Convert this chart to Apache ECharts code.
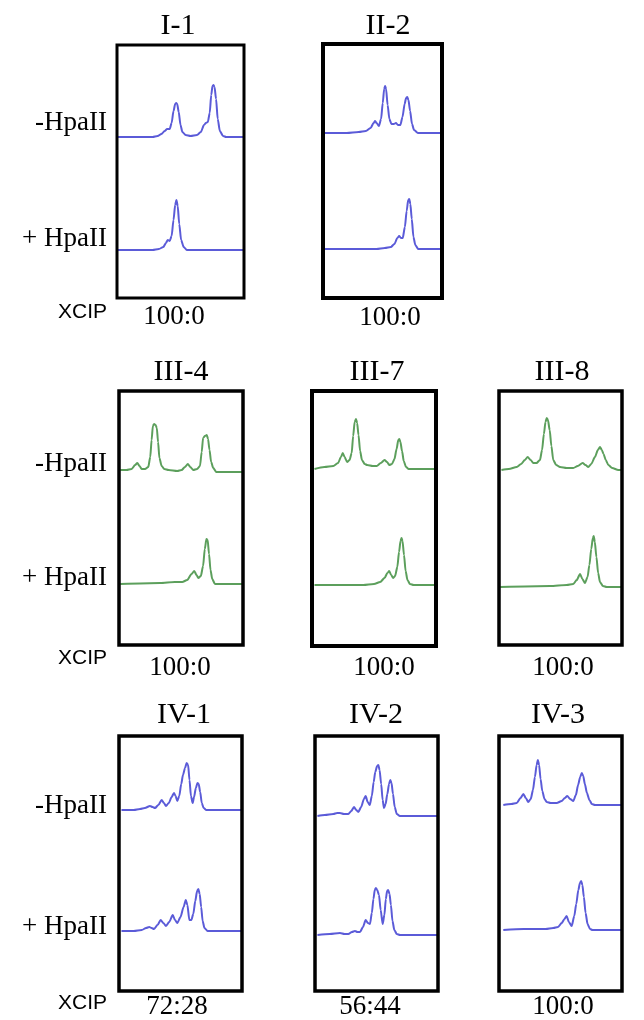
<!DOCTYPE html>
<html>
<head>
<meta charset="utf-8">
<script src="https://cdn.jsdelivr.net/npm/echarts@6/dist/echarts.min.js"></script>
<style>
html,body{margin:0;padding:0;background:#fff;}
#chart{width:644px;height:1020px;}
</style>
</head>
<body>
<div id="chart"></div>
<script>
// ---------- labels ----------
const panelNames = ['I-1', 'II-2', 'III-4', 'III-7', 'III-8', 'IV-1', 'IV-2', 'IV-3'];
const xcipRatios = ['100:0', '100:0', '100:0', '100:0', '100:0', '72:28', '56:44', '100:0'];
const rowLabels = ['-HpaII', '+ HpaII', 'XCIP'];

// ---------- traces: [migration position (0-100), signal] ----------
const minus_I1 = [[0,0],[28,0],[32,1],[35,3],[37.5,6],[39.5,8],[41.5,8],[43,14],[44.5,26],[45.8,33],[46.6,34],[47.4,33],[48.6,25],[50,12],[51.5,5],[54,2],[58,1],[63,2],[66,5],[68.5,12],[70,14],[71.5,15],[73,24],[74.2,42],[75.2,51],[76,52],[76.8,50],[78,38],[79.3,18],[81,6],[83.5,1],[86,0],[100,0]];
const plus_I1 = [[0,0],[28,0],[33,1],[36.5,3],[38.5,7],[40,10],[41.5,9],[43,14],[44.5,30],[45.8,45],[46.8,50],[47.8,44],[49,26],[50.5,10],[52.5,3],[55,0],[100,0]];

const minus_II2 = [[0,0],[20,0],[30,1],[36,2],[40,5],[42.5,10],[43.8,12],[45,10],[47,7],[48.8,14],[50.2,30],[51.4,44],[52.2,47],[53,44],[54.3,28],[55.8,14],[57.5,9],[59.5,9],[61.3,10],[63,8],[65,8],[66.8,16],[68.6,29],[69.8,35],[70.8,36],[71.8,33],[73.2,22],[74.8,9],[76.5,3],[79.8,0],[100,0]];
const plus_II2 = [[0,0],[45,0],[52,1],[57,2],[60,5],[62.5,11],[64,13],[65.5,11],[67,11],[68.8,22],[70.3,38],[71.6,49],[72.5,50],[73.4,45],[74.6,30],[76,12],[77.6,4],[80,0],[100,0]];

const minus_III4 = [[1,2],[6,2],[10.2,3],[13,7],[14.8,9],[16.5,6],[18.3,3],[21,3],[23.6,5],[25.2,15],[26.3,32],[27.3,46],[28.3,48],[29.5,47],[30.5,44],[31.5,30],[32.6,14],[34.4,6],[36.5,3],[40,2],[47,1],[50.5,2],[53.2,5],[55.5,8],[57.5,5],[59.9,2],[63,3],[65.3,6],[66.7,20],[67.8,34],[69.3,36],[70.8,37],[71.8,33],[73,22],[74.3,10],[76,4],[78.5,0],[100,0]];
const plus_III4 = [[1,0],[33.1,1],[45,2],[51,2],[55,4],[58.5,10],[60.7,13],[62.5,9],[64,6],[66,8],[67.8,18],[69.2,35],[70.5,45],[71.5,44],[72.6,30],[73.8,14],[75.2,5],[77.4,0],[100,0]];

const minus_III7 = [[2,0],[10,2],[17.2,3],[21,6],[23.4,12],[24.8,16],[26.3,12],[28.3,7],[30.3,9],[32,16],[33.2,33],[34.4,47],[35.5,50],[36.4,46],[37.5,34],[38.8,18],[40.3,9],[42.5,5],[44.5,4],[49,3],[52.2,3],[55.5,6],[58.5,9],[60.5,7],[62.3,4],[64.5,5],[66.5,10],[68.2,20],[69.6,29],[70.4,30],[71.3,27],[72.6,18],[74,8],[75.8,2],[78,0],[100,0]];
const plus_III7 = [[2,0],[41.4,0],[50,1],[55,3],[58.5,7],[60.8,12],[62.3,14],[63.8,10],[65.5,7],[67,9],[68.8,18],[70.2,33],[71.4,44],[72.2,47],[73,44],[74.2,30],[75.5,14],[77,5],[79,1],[82,0],[100,0]];

const minus_III8 = [[2,0],[8,1],[14.4,3],[18,6],[21,10],[23.3,13],[25.7,10],[27.9,7],[30.5,7],[33.3,10],[35,20],[36.5,36],[37.8,48],[38.8,52],[39.8,50],[41.2,40],[42.6,24],[44.1,10],[46.5,5],[49.6,3],[55,2],[60.4,2],[64,4],[68,7],[70.3,5],[72.6,3],[75,6],[78,13],[80.4,20],[82.1,23],[83.6,20],[85,16],[86.8,10],[88.9,5],[92,2],[97,0],[100,0]];
const plus_III8 = [[1,0],[41.5,1],[55,2],[60.4,3],[63.2,7],[65.9,13],[67.8,8],[69.9,4],[72,10],[73.5,22],[75,38],[76.3,49],[77,51],[77.9,45],[79.2,30],[80.6,14],[82.1,5],[84.5,1],[87.6,0],[100,0]];

const minus_IV1 = [[2,0],[12,0],[17.1,1],[21,2],[25.2,4],[27.3,3],[29.3,2],[32,5],[34.7,10],[36.5,7],[38.2,4],[40.5,7],[42.8,13],[44.7,17],[46,14],[47.4,9],[49,14],[50.6,26],[52,35],[53.7,42],[55,47],[56.2,45],[57.3,30],[58.5,14],[59.9,7],[61,13],[62.5,22],[63.8,27],[64.8,26],[66,18],[67.3,7],[68.8,2],[71,0],[100,0]];
const plus_IV1 = [[2,0],[12,0],[18.5,1],[22,3],[24.6,4],[26.5,3],[28.5,2],[31.3,6],[33.9,11],[36,8],[38.2,5],[40.8,9],[43.7,16],[45.5,11],[47.4,8],[50,14],[52.5,24],[54.3,31],[55.6,26],[57.2,11],[58.8,11],[60.4,17],[62,30],[63.5,40],[64.5,42],[65.6,37],[66.8,24],[68,10],[69.5,3],[72,0],[100,0]];

const minus_IV2 = [[2,0],[8,1],[14.9,2],[18,3],[20.3,3],[23.5,2],[27.1,2],[29.5,5],[31.7,9],[33.5,6],[35.2,4],[37.5,9],[39.8,17],[41.2,20],[42.8,14],[44.5,11],[46.2,20],[47.7,34],[49,44],[50.5,50],[51.5,51],[52.5,46],[53.8,32],[55,16],[56.1,8],[57.4,12],[58.8,22],[60.2,32],[61.2,36],[62.2,33],[63.4,22],[64.8,9],[66.5,2],[69,0],[100,0]];
const plus_IV2 = [[2,0],[12,1],[20.3,2],[24,1],[27.1,1],[30,3],[32.5,4],[34.5,3],[36.6,3],[39,8],[41.2,15],[43,12],[44.7,11],[46.2,22],[47.5,36],[48.6,45],[49.5,47],[50.6,45],[52,40],[53.4,25],[55,11],[56.4,20],[57.6,36],[58.6,44],[59.5,45],[60.6,41],[61.7,30],[63,14],[64.5,5],[66.5,1],[69.1,0],[100,0]];

const minus_IV3 = [[3.5,0],[10,1],[14.4,2],[17.5,7],[19.8,11],[21.8,7],[23.8,3],[25.8,6],[27.6,15],[29.2,28],[30.6,40],[31.6,45],[32.6,40],[33.8,26],[35.2,14],[37,6],[38.8,3],[42,2],[46.9,2],[51,4],[53.5,7],[55.5,9],[57.8,6],[60.4,4],[62.5,10],[64.3,20],[66,28],[67.3,32],[68.5,29],[69.8,21],[71.5,12],[73.5,5],[75.5,1],[78,0],[100,0]];
const plus_IV3 = [[3.5,0],[20,1],[27.9,1],[38,1],[44.1,2],[48,3],[51,7],[53.2,11],[55,14],[56.8,8],[59.1,4],[61.2,14],[62.8,26],[64.5,40],[65.8,47],[66.8,49],[67.8,45],[69,33],[70.4,17],[72,6],[74,1],[76,0],[100,0]];

const minusTraces = [minus_I1, minus_II2, minus_III4, minus_III7, minus_III8, minus_IV1, minus_IV2, minus_IV3];
const plusTraces = [plus_I1, plus_II2, plus_III4, plus_III7, plus_III8, plus_IV1, plus_IV2, plus_IV3];

// ---------- layout (pixels) ----------
const BLUE = '#5b5bd8', GREEN = '#5c9f5c';
const layout = [
  {l:117, t:45,  w:127, h:253, bw:3,   base:[137,250], title:[178,36],  lab:[174,326], color:BLUE},
  {l:323, t:44,  w:119, h:254, bw:4,   base:[133,249], title:[388,36],  lab:[390,327], color:BLUE},
  {l:119, t:391, w:124, h:254, bw:3.5, base:[472,584], title:[181,382], lab:[180,677], color:GREEN},
  {l:312, t:391, w:124, h:255, bw:4,   base:[469,585], title:[377,382], lab:[384,677], color:GREEN},
  {l:499, t:391, w:123, h:254, bw:3.5, base:[470,587], title:[562,382], lab:[563,677], color:GREEN},
  {l:119, t:736, w:123, h:255, bw:3.5, base:[810,931], title:[184,725], lab:[177,1016], color:BLUE},
  {l:315, t:736, w:123, h:255, bw:3.5, base:[816,935], title:[376,725], lab:[370,1016], color:BLUE},
  {l:499, t:736, w:123, h:255, bw:3.5, base:[805,930], title:[558,725], lab:[563,1016], color:BLUE}
];
const rowLabelBaselines = [[132,248,319],[473,587,665],[815,936,1010]];
const TRACE_H = 60;

const grids = [], xAxes = [], yAxes = [], series = [], graphics = [];
const SERIF = '"Liberation Serif", "Times New Roman", serif';
const SANS = '"Liberation Sans", Arial, sans-serif';

function addText(text, x, baseline, fs, font, align) {
  graphics.push({
    type: 'text', silent: true,
    style: {
      text: text, x: x, y: baseline - fs * 0.33,
      fill: '#000', font: fs + 'px ' + font,
      textAlign: align, textVerticalAlign: 'middle', verticalAlign: 'middle'
    }
  });
}

layout.forEach((p, i) => {
  // frame box
  let gi = grids.length;
  grids.push({left: p.l, top: p.t, width: p.w, height: p.h, show: true,
    borderColor: '#000', borderWidth: p.bw, backgroundColor: 'transparent', z: 5});
  xAxes.push({gridIndex: gi, type: 'value', min: 0, max: 1, show: false});
  yAxes.push({gridIndex: gi, type: 'value', min: 0, max: 1, show: false});

  [minusTraces[i], plusTraces[i]].forEach((tr, k) => {
    const g = grids.length;
    grids.push({left: p.l, top: p.base[k] - TRACE_H, width: p.w, height: TRACE_H, show: false});
    xAxes.push({gridIndex: g, type: 'value', min: 0, max: 100, show: false});
    yAxes.push({gridIndex: g, type: 'value', min: 0, max: TRACE_H, show: false});
    series.push({
      type: 'line', xAxisIndex: g, yAxisIndex: g, data: tr,
      showSymbol: false, symbol: 'none', smooth: 0.25, smoothMonotone: 'x',
      lineStyle: {color: p.color, width: 2}, silent: true, animation: false
    });
  });

  addText(panelNames[i], p.title[0], p.title[1], 30, SERIF, 'center');
  addText(xcipRatios[i], p.lab[0], p.lab[1], 27, SERIF, 'center');
});

rowLabelBaselines.forEach(r => {
  addText(rowLabels[0], 107, r[0], 27, SERIF, 'right');
  addText(rowLabels[1], 107, r[1], 27, SERIF, 'right');
  addText(rowLabels[2], 107, r[2], 21, SANS, 'right');
});

const chart = echarts.init(document.getElementById('chart'), null, {renderer: 'canvas'});
chart.setOption({
  animation: false,
  grid: grids, xAxis: xAxes, yAxis: yAxes, series: series,
  graphic: {elements: graphics}
});
</script>
</body>
</html>
